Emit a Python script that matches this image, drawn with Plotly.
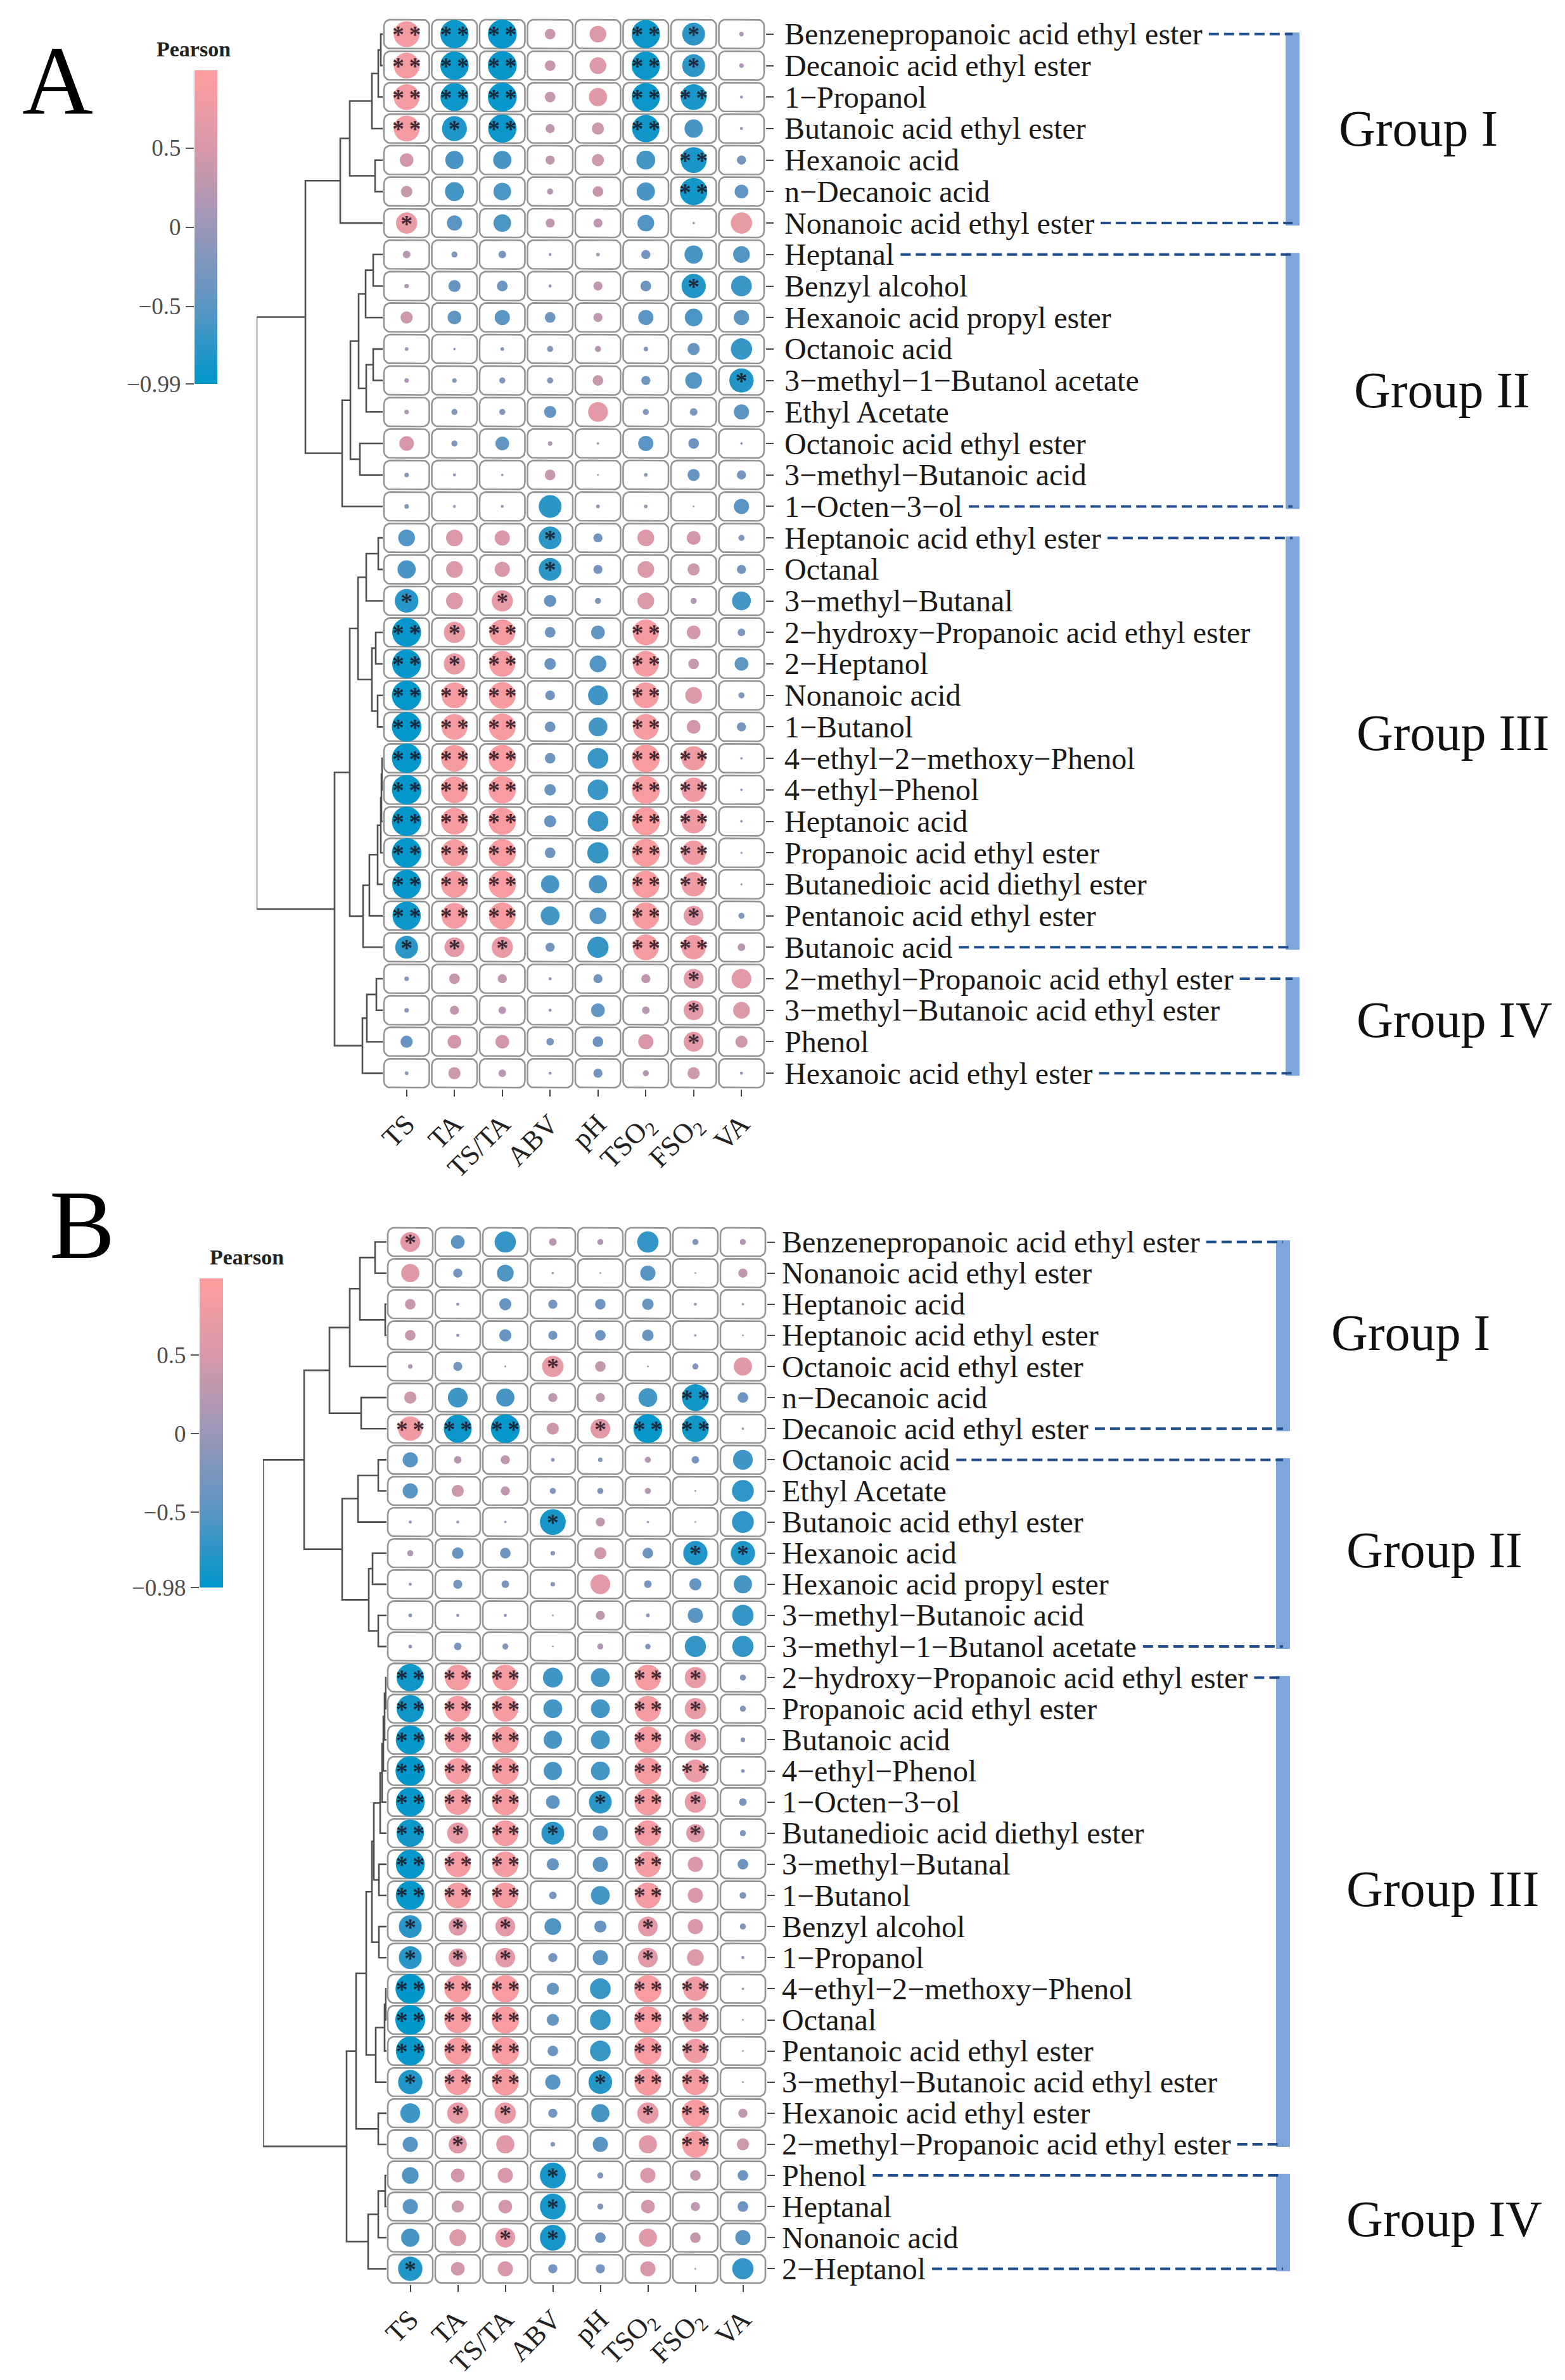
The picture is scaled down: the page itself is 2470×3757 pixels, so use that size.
import math
import plotly.graph_objects as go

W, H = 2470, 3757
FONT = "Liberation Serif"

# ---------------- data ----------------
columns = ["TS", "TA", "TS/TA", "ABV", "pH", "TSO<sub>2</sub>", "FSO<sub>2</sub>", "VA"]

labels_A = [
    "Benzenepropanoic acid ethyl ester", "Decanoic acid ethyl ester", "1−Propanol",
    "Butanoic acid ethyl ester", "Hexanoic acid", "n−Decanoic acid", "Nonanoic acid ethyl ester",
    "Heptanal", "Benzyl alcohol", "Hexanoic acid propyl ester", "Octanoic acid",
    "3−methyl−1−Butanol acetate", "Ethyl Acetate", "Octanoic acid ethyl ester",
    "3−methyl−Butanoic acid", "1−Octen−3−ol", "Heptanoic acid ethyl ester", "Octanal",
    "3−methyl−Butanal", "2−hydroxy−Propanoic acid ethyl ester", "2−Heptanol", "Nonanoic acid",
    "1−Butanol", "4−ethyl−2−methoxy−Phenol", "4−ethyl−Phenol", "Heptanoic acid",
    "Propanoic acid ethyl ester", "Butanedioic acid diethyl ester", "Pentanoic acid ethyl ester",
    "Butanoic acid", "2−methyl−Propanoic acid ethyl ester", "3−methyl−Butanoic acid ethyl ester",
    "Phenol", "Hexanoic acid ethyl ester",
]

r_A = [
    [0.85, -0.93, -0.95, 0.35, 0.55, -0.93, -0.75, 0.15],
    [0.85, -0.93, -0.95, 0.35, 0.55, -0.93, -0.75, 0.15],
    [0.85, -0.92, -0.95, 0.35, 0.60, -0.93, -0.85, 0.10],
    [0.85, -0.82, -0.93, 0.30, 0.40, -0.90, -0.60, 0.10],
    [0.45, -0.60, -0.60, 0.30, 0.40, -0.62, -0.85, -0.30],
    [0.38, -0.62, -0.58, 0.20, 0.35, -0.60, -0.90, -0.45],
    [0.70, -0.50, -0.58, 0.30, 0.30, -0.55, -0.08, 0.70],
    [0.25, -0.20, -0.25, -0.10, 0.12, -0.30, -0.60, -0.55],
    [0.15, -0.40, -0.35, -0.10, 0.30, -0.35, -0.80, -0.68],
    [0.40, -0.45, -0.50, -0.35, 0.30, -0.50, -0.58, -0.50],
    [0.12, -0.08, -0.12, -0.20, 0.20, -0.15, -0.40, -0.70],
    [0.15, -0.15, -0.20, -0.20, 0.35, -0.30, -0.55, -0.80],
    [0.15, -0.20, -0.20, -0.40, 0.65, -0.20, -0.25, -0.50],
    [0.48, -0.20, -0.45, 0.15, 0.08, -0.50, -0.35, -0.08],
    [-0.15, -0.10, -0.08, 0.35, 0.06, -0.12, -0.40, -0.30],
    [-0.15, 0.10, 0.10, -0.75, -0.12, 0.12, -0.06, -0.50],
    [-0.55, 0.55, 0.50, -0.75, -0.30, 0.55, 0.45, -0.20],
    [-0.60, 0.55, 0.50, -0.75, -0.30, 0.55, 0.40, -0.30],
    [-0.78, 0.55, 0.70, -0.40, -0.20, 0.55, 0.20, -0.62],
    [-0.95, 0.70, 0.85, -0.35, -0.45, 0.85, 0.45, -0.25],
    [-0.95, 0.70, 0.85, -0.38, -0.55, 0.85, 0.35, -0.45],
    [-0.97, 0.85, 0.88, -0.32, -0.65, 0.85, 0.55, -0.20],
    [-0.97, 0.85, 0.88, -0.35, -0.62, 0.85, 0.45, -0.30],
    [-0.97, 0.88, 0.90, -0.35, -0.68, 0.92, 0.80, -0.08],
    [-0.97, 0.88, 0.90, -0.38, -0.68, 0.92, 0.80, -0.08],
    [-0.97, 0.88, 0.90, -0.40, -0.68, 0.92, 0.80, -0.08],
    [-0.97, 0.88, 0.90, -0.35, -0.70, 0.92, 0.80, -0.07],
    [-0.95, 0.88, 0.90, -0.60, -0.60, 0.90, 0.80, -0.07],
    [-0.93, 0.85, 0.88, -0.62, -0.55, 0.88, 0.65, -0.20],
    [-0.75, 0.65, 0.70, -0.30, -0.70, 0.85, 0.80, 0.25],
    [-0.15, 0.35, 0.30, -0.10, -0.30, 0.30, 0.65, 0.65],
    [-0.15, 0.30, 0.25, -0.10, -0.45, 0.25, 0.65, 0.55],
    [-0.40, 0.45, 0.45, -0.25, -0.35, 0.50, 0.65, 0.40],
    [-0.12, 0.40, 0.25, -0.10, -0.30, 0.20, 0.40, -0.10],
]

sig_A = [
    [2, 2, 2, 0, 0, 2, 1, 0], [2, 2, 2, 0, 0, 2, 1, 0], [2, 2, 2, 0, 0, 2, 2, 0],
    [2, 1, 2, 0, 0, 2, 0, 0], [0, 0, 0, 0, 0, 0, 2, 0], [0, 0, 0, 0, 0, 0, 2, 0],
    [1, 0, 0, 0, 0, 0, 0, 0], [0, 0, 0, 0, 0, 0, 0, 0], [0, 0, 0, 0, 0, 0, 1, 0],
    [0, 0, 0, 0, 0, 0, 0, 0], [0, 0, 0, 0, 0, 0, 0, 0], [0, 0, 0, 0, 0, 0, 0, 1],
    [0, 0, 0, 0, 0, 0, 0, 0], [0, 0, 0, 0, 0, 0, 0, 0], [0, 0, 0, 0, 0, 0, 0, 0],
    [0, 0, 0, 0, 0, 0, 0, 0], [0, 0, 0, 1, 0, 0, 0, 0], [0, 0, 0, 1, 0, 0, 0, 0],
    [1, 0, 1, 0, 0, 0, 0, 0], [2, 1, 2, 0, 0, 2, 0, 0], [2, 1, 2, 0, 0, 2, 0, 0],
    [2, 2, 2, 0, 0, 2, 0, 0], [2, 2, 2, 0, 0, 2, 0, 0], [2, 2, 2, 0, 0, 2, 2, 0],
    [2, 2, 2, 0, 0, 2, 2, 0], [2, 2, 2, 0, 0, 2, 2, 0], [2, 2, 2, 0, 0, 2, 2, 0],
    [2, 2, 2, 0, 0, 2, 2, 0], [2, 2, 2, 0, 0, 2, 1, 0], [1, 1, 1, 0, 0, 2, 2, 0],
    [0, 0, 0, 0, 0, 0, 1, 0], [0, 0, 0, 0, 0, 0, 1, 0], [0, 0, 0, 0, 0, 0, 1, 0],
    [0, 0, 0, 0, 0, 0, 0, 0],
]

# dendrogram merges: (child, child, height); "rN" = row N, "mK" = K-th merge
merges_A = [
    ("r1", "r2", 3), ("m0", "r3", 7), ("m1", "r4", 17), ("r5", "r6", 12),
    ("m2", "m3", 52), ("m4", "r7", 67),
    ("r8", "r9", 15), ("m6", "r10", 27), ("r11", "r12", 15), ("m8", "r13", 26),
    ("m7", "m9", 38), ("r14", "r15", 36), ("m10", "m11", 51), ("m12", "r16", 64),
    ("m5", "m13", 122),
    ("r17", "r18", 7), ("m15", "r19", 26), ("r20", "r21", 11), ("r22", "r23", 8),
    ("m17", "m18", 17), ("m16", "m19", 39),
    ("r24", "r25", 1), ("m21", "r26", 2), ("m22", "r27", 3), ("m23", "r28", 8),
    ("m24", "r29", 21), ("m25", "r30", 31), ("m20", "m26", 52),
    ("r31", "r32", 10), ("m28", "r33", 25), ("m29", "r34", 32),
    ("m27", "m30", 76), ("m14", "m31", 199),
]

groups_A = [("Group I", 1, 7), ("Group II", 8, 16), ("Group III", 17, 30), ("Group IV", 31, 34)]

labels_B = [
    "Benzenepropanoic acid ethyl ester", "Nonanoic acid ethyl ester", "Heptanoic acid",
    "Heptanoic acid ethyl ester", "Octanoic acid ethyl ester", "n−Decanoic acid",
    "Decanoic acid ethyl ester", "Octanoic acid", "Ethyl Acetate", "Butanoic acid ethyl ester",
    "Hexanoic acid", "Hexanoic acid propyl ester", "3−methyl−Butanoic acid",
    "3−methyl−1−Butanol acetate", "2−hydroxy−Propanoic acid ethyl ester",
    "Propanoic acid ethyl ester", "Butanoic acid", "4−ethyl−Phenol", "1−Octen−3−ol",
    "Butanedioic acid diethyl ester", "3−methyl−Butanal", "1−Butanol", "Benzyl alcohol",
    "1−Propanol", "4−ethyl−2−methoxy−Phenol", "Octanal", "Pentanoic acid ethyl ester",
    "3−methyl−Butanoic acid ethyl ester", "Hexanoic acid ethyl ester",
    "2−methyl−Propanoic acid ethyl ester", "Phenol", "Heptanal", "Nonanoic acid", "2−Heptanol",
]

r_B = [
    [0.65, -0.45, -0.70, 0.25, 0.20, -0.70, -0.20, 0.20],
    [0.60, -0.30, -0.55, 0.08, 0.06, -0.50, 0.06, 0.30],
    [0.35, -0.10, -0.40, -0.30, -0.35, -0.38, 0.10, -0.08],
    [0.35, -0.10, -0.40, -0.30, -0.35, -0.38, 0.08, -0.06],
    [0.15, -0.30, 0.06, 0.70, 0.35, 0.06, -0.20, 0.60],
    [0.40, -0.65, -0.60, 0.30, 0.30, -0.62, -0.88, -0.35],
    [0.80, -0.92, -0.95, 0.40, 0.65, -0.95, -0.88, 0.08],
    [-0.50, 0.25, 0.30, -0.12, -0.15, 0.20, -0.25, -0.65],
    [-0.50, 0.40, 0.30, -0.20, -0.20, 0.20, -0.06, -0.72],
    [-0.10, 0.10, -0.08, -0.85, 0.30, -0.08, -0.06, -0.72],
    [0.20, -0.38, -0.35, -0.15, 0.40, -0.35, -0.80, -0.80],
    [-0.10, -0.30, -0.25, -0.15, 0.65, -0.25, -0.40, -0.60],
    [-0.12, -0.10, -0.10, -0.06, 0.30, -0.12, -0.50, -0.70],
    [-0.12, -0.25, -0.20, -0.06, 0.20, -0.18, -0.70, -0.70],
    [-0.90, 0.85, 0.85, -0.65, -0.62, 0.85, 0.70, -0.20],
    [-0.90, 0.85, 0.85, -0.62, -0.62, 0.85, 0.70, -0.20],
    [-0.95, 0.85, 0.88, -0.60, -0.62, 0.88, 0.70, -0.15],
    [-0.97, 0.85, 0.88, -0.60, -0.62, 0.88, 0.75, -0.12],
    [-0.95, 0.85, 0.88, -0.45, -0.75, 0.88, 0.70, -0.25],
    [-0.90, 0.70, 0.85, -0.75, -0.50, 0.85, 0.60, -0.20],
    [-0.95, 0.85, 0.85, -0.40, -0.50, 0.85, 0.50, -0.35],
    [-0.95, 0.85, 0.85, -0.25, -0.62, 0.85, 0.50, -0.22],
    [-0.75, 0.60, 0.65, -0.55, -0.40, 0.65, 0.50, -0.20],
    [-0.75, 0.60, 0.65, -0.30, -0.50, 0.65, 0.55, -0.10],
    [-0.97, 0.88, 0.90, -0.40, -0.68, 0.90, 0.80, -0.08],
    [-0.98, 0.88, 0.90, -0.40, -0.68, 0.90, 0.80, -0.06],
    [-0.95, 0.88, 0.90, -0.35, -0.68, 0.90, 0.80, -0.06],
    [-0.80, 0.85, 0.88, -0.50, -0.78, 0.88, 0.85, -0.06],
    [-0.65, 0.70, 0.70, -0.30, -0.60, 0.70, 0.90, 0.30],
    [-0.50, 0.60, 0.60, -0.15, -0.50, 0.60, 0.88, 0.40],
    [-0.55, 0.45, 0.50, -0.85, -0.20, 0.50, 0.35, -0.35],
    [-0.50, 0.40, 0.45, -0.85, -0.20, 0.45, 0.30, -0.35],
    [-0.60, 0.55, 0.65, -0.85, -0.35, 0.60, 0.35, -0.50],
    [-0.80, 0.45, 0.50, -0.30, -0.30, 0.50, 0.06, -0.70],
]

sig_B = [
    [1, 0, 0, 0, 0, 0, 0, 0], [0, 0, 0, 0, 0, 0, 0, 0], [0, 0, 0, 0, 0, 0, 0, 0],
    [0, 0, 0, 0, 0, 0, 0, 0], [0, 0, 0, 1, 0, 0, 0, 0], [0, 0, 0, 0, 0, 0, 2, 0],
    [2, 2, 2, 0, 1, 2, 2, 0], [0, 0, 0, 0, 0, 0, 0, 0], [0, 0, 0, 0, 0, 0, 0, 0],
    [0, 0, 0, 1, 0, 0, 0, 0], [0, 0, 0, 0, 0, 0, 1, 1], [0, 0, 0, 0, 0, 0, 0, 0],
    [0, 0, 0, 0, 0, 0, 0, 0], [0, 0, 0, 0, 0, 0, 0, 0], [2, 2, 2, 0, 0, 2, 1, 0],
    [2, 2, 2, 0, 0, 2, 1, 0], [2, 2, 2, 0, 0, 2, 1, 0], [2, 2, 2, 0, 0, 2, 2, 0],
    [2, 2, 2, 0, 1, 2, 1, 0], [2, 1, 2, 1, 0, 2, 1, 0], [2, 2, 2, 0, 0, 2, 0, 0],
    [2, 2, 2, 0, 0, 2, 0, 0], [1, 1, 1, 0, 0, 1, 0, 0], [1, 1, 1, 0, 0, 1, 0, 0],
    [2, 2, 2, 0, 0, 2, 2, 0], [2, 2, 2, 0, 0, 2, 2, 0], [2, 2, 2, 0, 0, 2, 2, 0],
    [1, 2, 2, 0, 1, 2, 2, 0], [0, 1, 1, 0, 0, 1, 2, 0], [0, 1, 0, 0, 0, 0, 2, 0],
    [0, 0, 0, 1, 0, 0, 0, 0], [0, 0, 0, 1, 0, 0, 0, 0], [0, 0, 1, 1, 0, 0, 0, 0],
    [1, 0, 0, 0, 0, 0, 0, 0],
]

merges_B = [
    ("r1", "r2", 18), ("r3", "r4", 2), ("m0", "m1", 42), ("m2", "r5", 58),
    ("r6", "r7", 40), ("m3", "m4", 90),
    ("r8", "r9", 13), ("m6", "r10", 45), ("r11", "r12", 22), ("r13", "r14", 13),
    ("m8", "m9", 28), ("m7", "m10", 70), ("m5", "m11", 130),
    ("r15", "r16", 1), ("m13", "r17", 3), ("m14", "r18", 5), ("m15", "r19", 7),
    ("m16", "r20", 10), ("r21", "r22", 12), ("m17", "m18", 20), ("r23", "r24", 12),
    ("m19", "m20", 23), ("r25", "r26", 1), ("m22", "r27", 3), ("m23", "r28", 17),
    ("m21", "m24", 32), ("r29", "r30", 13), ("m25", "m26", 48),
    ("r31", "r32", 2), ("m28", "r33", 13), ("m29", "r34", 29),
    ("m27", "m30", 63), ("m12", "m31", 195),
]

groups_B = [("Group I", 1, 7), ("Group II", 8, 14), ("Group III", 15, 30), ("Group IV", 31, 34)]

# ---------------- styling / layout (pixels) ----------------
COLORSCALE = [[0.0, "#0097CB"], [0.25, "#5B95C3"], [0.5, "#9A96B8"],
              [0.75, "#D898A9"], [1.0, "#FF9D9F"]]
LABEL_FS = 48
GROUP_FS = 80
DMAX = 48
STAR_FS = 38
STAR_DY = 0.08   # downward nudge of the star glyphs (row units)
STAR_SEP = "\u2009"

cfg_A = dict(labels=labels_A, r=r_A, sig=sig_A, merges=merges_A, groups=groups_A,
             cmin=-0.99, cmax=0.99, cbtext="−0.99",
             gx0=604, gx1=1208, gy0=29, gy1=1719, dx0=405, label_x=1236, bar_x=2040,
             group_x=[2111, 2135, 2139, 2139], group_y=[4.0, 12.3, 23.2, 32.3],
             cb=(307, 343, 111, 606), pearson=(305, 78, "center"), letter=("A", 33, 127),
             xa="x", ya="y", xd="x2", xc="x5", yc="y5")
cfg_B = dict(labels=labels_B, r=r_B, sig=sig_B, merges=merges_B, groups=groups_B,
             cmin=-0.98, cmax=0.99, cbtext="−0.98",
             gx0=610, gx1=1210, gy0=1936, gy1=3606, dx0=415, label_x=1232, bar_x=2025,
             group_x=[2099, 2123, 2123, 2123], group_y=[3.93, 10.9, 21.8, 32.4],
             cb=(315, 352, 2018, 2506), pearson=(329, 1985, "left"), letter=("B", 76, 1934),
             xa="x3", ya="y3", xd="x4", xc="x6", yc="y6")

TW = dict(zip("abcdefghijklmnopqrstuvwxyz",
              [444, 500, 444, 500, 444, 333, 500, 500, 278, 278, 500, 278, 778, 500, 500, 500,
               500, 333, 389, 278, 500, 500, 722, 500, 500, 444]))
TW.update(dict(zip("ABCDEFGHIJKLMNOPQRSTUVWXYZ",
                   [722, 667, 667, 722, 611, 556, 722, 722, 333, 389, 722, 611, 889, 722, 722,
                    556, 722, 667, 556, 611, 722, 722, 944, 722, 722, 611])))
TW.update({" ": 250, "−": 564, "-": 333})
for d in "0123456789":
    TW[d] = 500


def text_w(s, fs):
    return sum(TW.get(c, 500) for c in s) / 1000.0 * fs


def axname(a):
    return ("xaxis" if a[0] == "x" else "yaxis") + a[1:]


def rounded_rect(cx, cy, hw, hh, rx, ry, n=6):
    pts = []
    corners = [(cx + hw - rx, cy + hh - ry, 0), (cx - hw + rx, cy + hh - ry, 90),
               (cx - hw + rx, cy - hh + ry, 180), (cx + hw - rx, cy - hh + ry, 270)]
    for ox, oy, a0 in corners:
        for i in range(n + 1):
            a = math.radians(a0 + 90.0 * i / n)
            pts.append((ox + rx * math.cos(a), oy + ry * math.sin(a)))
    pts.append(pts[0])
    return pts


fig = go.Figure()
layout = dict(width=W, height=H, margin=dict(l=0, r=0, t=0, b=0, autoexpand=False),
              paper_bgcolor="white", plot_bgcolor="rgba(0,0,0,0)", showlegend=False,
              hovermode=False, template="none", font=dict(family=FONT, color="#222"))
annotations = []
shapes = []

for cfg in (cfg_A, cfg_B):
    labels, r, sig = cfg["labels"], cfg["r"], cfg["sig"]
    nrow, ncol = len(labels), len(columns)
    gx0, gx1, gy0, gy1 = cfg["gx0"], cfg["gx1"], cfg["gy0"], cfg["gy1"]
    cw = (gx1 - gx0) / ncol
    rh = (gy1 - gy0) / nrow
    xa, ya, xd, xc, yc = cfg["xa"], cfg["ya"], cfg["xd"], cfg["xc"], cfg["yc"]

    # cell outlines (rounded rectangles)
    inset, rad = 2.0, 10.0
    cxs, cys = [], []
    for i in range(nrow):
        for j in range(ncol):
            pts = rounded_rect(j + 1, i + 1, (cw / 2 - inset) / cw, (rh / 2 - inset) / rh,
                               rad / cw, rad / rh)
            cxs += [p[0] for p in pts] + [None]
            cys += [p[1] for p in pts] + [None]
    fig.add_trace(go.Scatter(x=cxs, y=cys, mode="lines", xaxis=xa, yaxis=ya,
                             line=dict(color="#949494", width=2.6), hoverinfo="skip"))

    # correlation dots
    px_, py_, pv = [], [], []
    for i in range(nrow):
        for j in range(ncol):
            px_.append(j + 1)
            py_.append(i + 1)
            pv.append(r[i][j])
    cb0, cb1, cbt, cbb = cfg["cb"]
    fig.add_trace(go.Scatter(
        x=px_, y=py_, mode="markers", xaxis=xa, yaxis=ya, hoverinfo="skip",
        marker=dict(size=[DMAX * abs(v) for v in pv], color=pv, colorscale=COLORSCALE,
                    cmin=cfg["cmin"], cmax=cfg["cmax"], line=dict(width=0), opacity=1,
                    showscale=True,
                    colorbar=dict(x=cb0 / W, xanchor="left", y=1 - cbt / H, yanchor="top",
                                  len=cbb - cbt, lenmode="pixels", thickness=cb1 - cb0,
                                  thicknessmode="pixels", xpad=0, ypad=0, outlinewidth=0,
                                  ticks="", showticklabels=False))))

    # significance stars
    sx, sy, st = [], [], []
    for i in range(nrow):
        for j in range(ncol):
            if sig[i][j]:
                sx.append(j + 1)
                sy.append(i + 1 + STAR_DY)
                st.append(STAR_SEP.join(["*"] * sig[i][j]))
    fig.add_trace(go.Scatter(x=sx, y=sy, text=st, mode="text", xaxis=xa, yaxis=ya,
                             textposition="middle center", hoverinfo="skip",
                             textfont=dict(family=FONT, size=STAR_FS, weight="bold",
                                           color="rgba(25,15,25,0.82)")))

    # dendrogram
    pos = {}
    dx, dy = [], []

    def node(name):
        if name[0] == "r":
            return float(name[1:]), 0.0
        return pos[name]

    for k, (a, b, h) in enumerate(cfg["merges"]):
        ya_, ha = node(a)
        yb_, hb = node(b)
        dx += [ha, h, h, hb, None]
        dy += [ya_, ya_, yb_, yb_, None]
        pos["m%d" % k] = ((ya_ + yb_) / 2.0, h)
    hroot = cfg["merges"][-1][2]
    fig.add_trace(go.Scatter(x=dx, y=dy, mode="lines", xaxis=xd, yaxis=ya, hoverinfo="skip",
                             line=dict(color="#505050", width=2.6)))

    # colorbar tick axis (dummy)
    fig.add_trace(go.Scatter(x=[0.5], y=[0], mode="markers", xaxis=xc, yaxis=yc,
                             marker=dict(opacity=0, size=1), hoverinfo="skip"))

    # axes
    layout[axname(xa)] = dict(domain=[gx0 / W, gx1 / W], range=[0.5, ncol + 0.5], anchor=ya,
                              tickvals=list(range(1, ncol + 1)), ticktext=columns, tickangle=-45,
                              ticks="outside", ticklen=11, tickwidth=2, tickcolor="#444",
                              tickfont=dict(family=FONT, size=44, color="#222"),
                              showgrid=False, zeroline=False, showline=False)
    layout[axname(ya)] = dict(domain=[1 - gy1 / H, 1 - gy0 / H], range=[nrow + 0.5, 0.5],
                              anchor=xa, side="right", tickvals=list(range(1, nrow + 1)),
                              ticks="outside", ticklen=12, tickwidth=2, tickcolor="#444",
                              showticklabels=False, showgrid=False, zeroline=False,
                              showline=False)
    layout[axname(xd)] = dict(domain=[cfg["dx0"] / W, gx0 / W], range=[hroot, 0], anchor=ya,
                              visible=False, showgrid=False, zeroline=False)
    layout[axname(xc)] = dict(domain=[cb0 / W, cb1 / W], range=[0, 1], anchor=yc,
                              visible=False, showgrid=False, zeroline=False)
    layout[axname(yc)] = dict(domain=[1 - cbb / H, 1 - cbt / H], range=[cfg["cmin"], cfg["cmax"]],
                              anchor=xc, side="left",
                              tickvals=[cfg["cmin"], -0.5, 0, 0.5],
                              ticktext=[cfg["cbtext"], "−0.5", "0", "0.5"],
                              ticks="outside", ticklen=13, tickwidth=2, tickcolor="#555",
                              tickfont=dict(family=FONT, size=37, color="#4D4D4D"),
                              showgrid=False, zeroline=False, showline=False)

    # row labels
    for i, lab in enumerate(labels):
        annotations.append(dict(x=cfg["label_x"] / W, y=i + 1, xref="paper", yref=ya,
                                text=lab, showarrow=False, xanchor="left", yanchor="middle",
                                font=dict(family=FONT, size=LABEL_FS, color="#1A1A1A")))

    # group brackets, dashed guides, group names
    bx = cfg["bar_x"]
    for gi, (gname, r0, r1) in enumerate(cfg["groups"]):
        shapes.append(dict(type="rect", xref="paper", yref=ya, x0=(bx - 11) / W, x1=(bx + 11) / W,
                           y0=r0 - 0.05, y1=r1 + 0.08, fillcolor="#7EA6DC", line=dict(width=0),
                           layer="above"))
        for rr in (r0, r1):
            xs = cfg["label_x"] + text_w(labels[rr - 1], LABEL_FS) + 12
            if xs < bx - 12:
                shapes.append(dict(type="line", xref="paper", yref=ya, x0=xs / W, x1=bx / W,
                                   y0=rr, y1=rr,
                                   line=dict(color="#1F4E8F", width=4, dash="16px,8px")))
        annotations.append(dict(x=cfg["group_x"][gi] / W, y=cfg["group_y"][gi], xref="paper",
                                yref=ya, text=gname, showarrow=False, xanchor="left",
                                yanchor="middle",
                                font=dict(family=FONT, size=GROUP_FS, color="#111")))

    # colorbar title and panel letter
    ptx, pty, panc = cfg["pearson"]
    annotations.append(dict(x=ptx / W, y=1 - pty / H, xref="paper", yref="paper",
                            text="<b>Pearson</b>", showarrow=False, xanchor=panc,
                            yanchor="middle", font=dict(family=FONT, size=34, color="#222")))
    let, lx, ly = cfg["letter"]
    annotations.append(dict(x=lx / W, y=1 - ly / H, xref="paper", yref="paper", text=let,
                            showarrow=False, xanchor="left", yanchor="middle",
                            font=dict(family=FONT, size=155, color="#000")))

layout["annotations"] = annotations
layout["shapes"] = shapes
fig.update_layout(**layout)

fig.write_html("out.html", config={"displayModeBar": False},
               post_script="document.body.style.margin='0px';")
